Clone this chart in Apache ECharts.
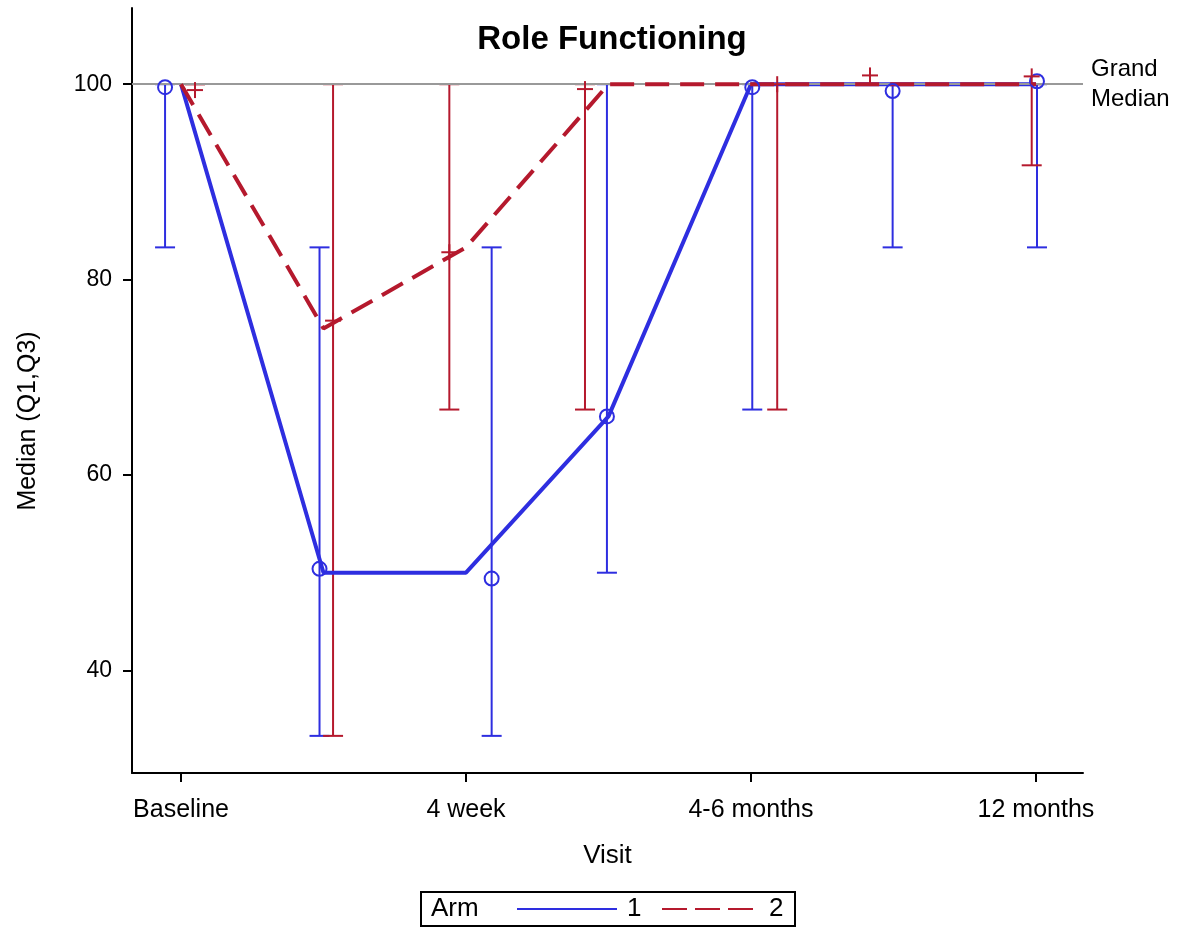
<!DOCTYPE html>
<html>
<head>
<meta charset="utf-8">
<script src="https://cdn.jsdelivr.net/npm/echarts@6/dist/echarts.min.js"></script>
<style>html,body{margin:0;padding:0;background:#fff;}#c{width:1184px;height:929px;}</style>
</head>
<body>
<div id="c"></div>
<script>
// ---- data ----
const visits = [1, 2, 3, 4, 5, 6, 7];
const tickPositions = [1, 3, 5, 7];
const tickLabels = ['Baseline', '4 week', '4-6 months', '12 months'];
const yTicks = [40, 60, 80, 100];

const arm1Median = [100, 50, 50, 66, 100, 100, 100];
const arm2Median = [100, 75, 83.3, 100, 100, 100, 100];

const arm1MarkerX = [0.888, 1.972, 3.180, 3.989, 5.009, 5.994, 7.007];
const arm1MarkerY = [99.7, 50.4, 49.4, 66, 99.7, 99.3, 100.3];
const arm1Q1 = [83.3, 33.3, 33.3, 50, 66.7, 83.3, 83.3];
const arm1Q3 = [100, 83.3, 83.3, 100, 100, 100, 100];

const arm2MarkerX = [1.098, 2.067, 2.883, 3.835, 5.184, 5.835, 6.970];
const arm2MarkerY = [99.4, 75.8, 82.8, 99.5, 100, 100.9, 100.8];
const arm2Q1 = [100, 33.3, 66.7, 66.7, 66.7, 100, 91.7];
const arm2Q3 = [100, 100, 100, 100, 100, 100, 100];

const grandMedian = 100;

// ---- styles ----
const BLUE = '#2e2ee0';
const RED = '#b5192d';
const FONT = 'Liberation Sans, Arial, sans-serif';

function errBarSeries(name, xs, q1, q3, color) {
  return {
    type: 'custom', name: name, z: 2, silent: true,
    data: xs.map((x, i) => [x, q1[i], q3[i]]),
    renderItem: function (params, api) {
      const x = api.value(0);
      const lo = api.coord([x, api.value(1)]);
      const hi = api.coord([x, api.value(2)]);
      const w = 10;
      const st = { stroke: color, lineWidth: 2 };
      return { type: 'group', children: [
        { type: 'line', shape: { x1: lo[0], y1: lo[1], x2: hi[0], y2: hi[1] }, style: st },
        { type: 'line', shape: { x1: lo[0] - w, y1: lo[1], x2: lo[0] + w, y2: lo[1] }, style: st },
        { type: 'line', shape: { x1: hi[0] - w, y1: hi[1], x2: hi[0] + w, y2: hi[1] }, style: st }
      ]};
    }
  };
}

function markerSeries(name, xs, ys, color, kind) {
  return {
    type: 'custom', name: name, z: 6, silent: true,
    data: xs.map((x, i) => [x, ys[i]]),
    renderItem: function (params, api) {
      const p = api.coord([api.value(0), api.value(1)]);
      if (kind === 'circle') {
        return { type: 'circle', shape: { cx: p[0], cy: p[1], r: 7 },
          style: { fill: 'none', stroke: color, lineWidth: 2 } };
      }
      const h = 8;
      const st = { stroke: color, lineWidth: 2 };
      return { type: 'group', children: [
        { type: 'line', shape: { x1: p[0] - h, y1: p[1], x2: p[0] + h, y2: p[1] }, style: st },
        { type: 'line', shape: { x1: p[0], y1: p[1] - h, x2: p[0], y2: p[1] + h }, style: st }
      ]};
    }
  };
}

const chart = echarts.init(document.getElementById('c'), null, { renderer: 'canvas' });
chart.setOption({
  animation: false,
  backgroundColor: '#fff',
  textStyle: { fontFamily: FONT },
  title: {
    text: 'Role Functioning', left: 607, top: 18, textAlign: 'center',
    textStyle: { fontFamily: FONT, fontSize: 33, fontWeight: 'bold', color: '#000' }
  },
  grid: { left: 132, right: 101, top: 8, bottom: 156 },
  xAxis: {
    type: 'value', min: 0.656, max: 7.33,
    name: 'Visit', nameLocation: 'middle', nameGap: 70,
    nameTextStyle: { fontFamily: FONT, fontSize: 26, color: '#000' },
    axisLine: { show: true, lineStyle: { color: '#000', width: 2 } },
    axisTick: { show: true, customValues: tickPositions, length: 9, lineStyle: { color: '#000', width: 2 } },
    axisLabel: {
      customValues: tickPositions, margin: 25,
      fontFamily: FONT, fontSize: 25, color: '#000',
      formatter: function (v) { const i = tickPositions.indexOf(Math.round(v)); return i >= 0 ? tickLabels[i] : ''; }
    },
    splitLine: { show: false }
  },
  yAxis: {
    type: 'value', min: 29.5, max: 107.8,
    axisLine: { show: true, lineStyle: { color: '#000', width: 2 } },
    axisTick: { show: true, customValues: yTicks, length: 9, lineStyle: { color: '#000', width: 2 } },
    axisLabel: { customValues: yTicks, margin: 20, fontFamily: FONT, fontSize: 23, color: '#000' },
    splitLine: { show: false }
  },
  series: [
    {
      type: 'line', name: 'ref', data: [], z: 1, silent: true,
      markLine: {
        silent: true, symbol: 'none', animation: false,
        lineStyle: { color: '#999', width: 2, type: 'solid' },
        label: { show: true, position: 'end', formatter: 'Grand\nMedian', fontFamily: FONT, fontSize: 24,
          lineHeight: 30, color: '#000', distance: 8 },
        data: [{ yAxis: grandMedian }]
      }
    },
    errBarSeries('arm1err', arm1MarkerX, arm1Q1, arm1Q3, BLUE),
    errBarSeries('arm2err', arm2MarkerX, arm2Q1, arm2Q3, RED),
    {
      type: 'line', name: '1', z: 4, symbol: 'none', silent: true,
      data: visits.map((v, i) => [v, arm1Median[i]]),
      lineStyle: { color: BLUE, width: 4 }
    },
    {
      type: 'line', name: '2', z: 5, symbol: 'none', silent: true,
      data: visits.map((v, i) => [v, arm2Median[i]]),
      lineStyle: { color: RED, width: 4, type: [24, 11] }
    },
    markerSeries('arm1pt', arm1MarkerX, arm1MarkerY, BLUE, 'circle'),
    markerSeries('arm2pt', arm2MarkerX, arm2MarkerY, RED, 'plus')
  ],
  graphic: [
    { type: 'text', x: 28, y: 421, rotation: Math.PI / 2,
      style: { text: 'Median (Q1,Q3)', font: '25px ' + FONT, fill: '#000', align: 'center', verticalAlign: 'middle' } },
    { type: 'rect', shape: { x: 421, y: 892, width: 374, height: 34 }, style: { fill: '#fff', stroke: '#000', lineWidth: 2 } },
    { type: 'text', x: 431, y: 909, style: { text: 'Arm', font: '26px ' + FONT, fill: '#000', verticalAlign: 'middle' } },
    { type: 'line', shape: { x1: 517, y1: 909, x2: 617, y2: 909 }, style: { stroke: BLUE, lineWidth: 2 } },
    { type: 'text', x: 627, y: 909, style: { text: '1', font: '26px ' + FONT, fill: '#000', verticalAlign: 'middle' } },
    { type: 'line', shape: { x1: 662, y1: 909, x2: 753, y2: 909 }, style: { stroke: RED, lineWidth: 2, lineDash: [25, 8] } },
    { type: 'text', x: 769, y: 909, style: { text: '2', font: '26px ' + FONT, fill: '#000', verticalAlign: 'middle' } }
  ]
});
</script>
</body>
</html>
